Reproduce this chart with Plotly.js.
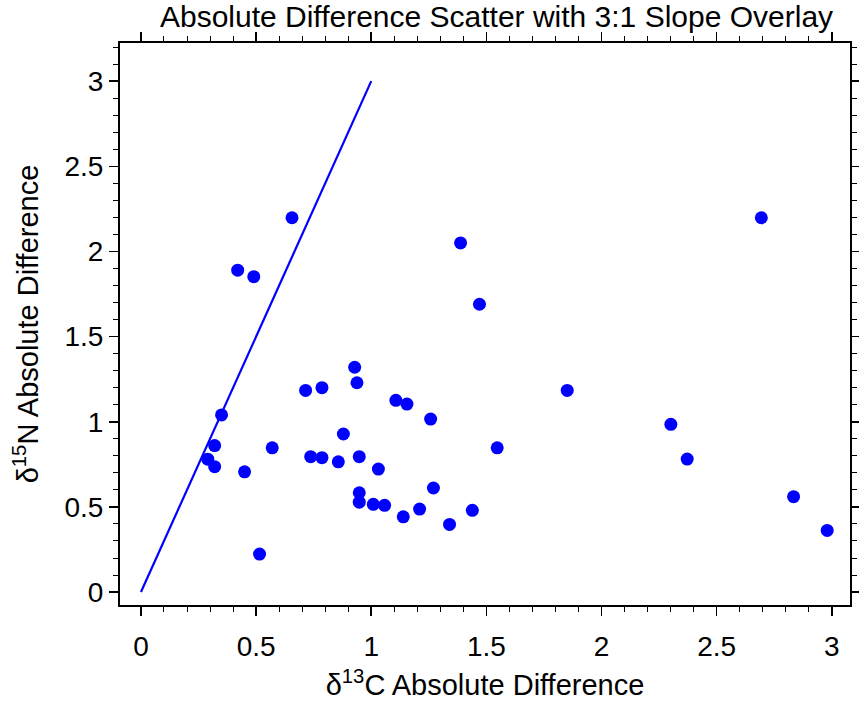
<!DOCTYPE html>
<html>
<head>
<meta charset="utf-8">
<script src="https://cdn.plot.ly/plotly-3.0.1.min.js"></script>
<style>html,body{margin:0;padding:0;background:#fff}</style>
</head>
<body>
<div id="chart" style="width:859px;height:704px"></div>
<script>
const d13C = [0.29,0.32,0.32,0.35,0.42,0.49,0.45,0.515,0.57,0.656,0.715,0.737,0.786,0.786,0.857,0.879,0.928,0.938,0.948,0.948,0.948,1.009,1.031,1.058,1.107,1.155,1.139,1.21,1.258,1.27,1.34,1.388,1.439,1.47,1.547,1.851,2.301,2.372,2.694,2.834,2.98];
const d15N = [0.78,0.736,0.86,1.04,1.89,1.852,0.706,0.223,0.847,2.198,1.184,0.795,0.789,1.2,0.765,0.928,1.32,1.229,0.795,0.583,0.528,0.515,0.722,0.509,1.126,1.104,0.442,0.487,1.016,0.611,0.397,2.05,0.48,1.69,0.847,1.184,0.985,0.781,2.198,0.56,0.362];
const slopeX = [0, 1];
const slopeY = [0, 3];
const tickVals = [0,0.5,1,1.5,2,2.5,3];
const tickText = ['0','0.5','1','1.5','2','2.5','3'];

const font = 'Liberation Sans, Arial, sans-serif';
const axisCommon = {
  showgrid: false, zeroline: false, showline: true, linecolor: '#000', linewidth: 2,
  mirror: 'ticks', ticks: 'outside', ticklen: 9, tickwidth: 1.5, tickcolor: '#000',
  tickvals: tickVals, ticktext: tickText,
  tickfont: {family: font, size: 28, color: '#000'},
  minor: {dtick: 0.1, ticks: 'outside', ticklen: 5, tickwidth: 1, tickcolor: '#000'}
};

const data = [
  {x: slopeX, y: slopeY, mode: 'lines', type: 'scatter', line: {color: '#0000ff', width: 2.2}, showlegend: false},
  {x: d13C, y: d15N, mode: 'markers', type: 'scatter', marker: {color: '#0000ff', size: 13}, showlegend: false}
];

const layout = {
  width: 859, height: 704,
  margin: {l: 120, r: 9, t: 43, b: 99},
  paper_bgcolor: '#fff', plot_bgcolor: '#fff',
  title: {text: 'Absolute Difference Scatter with 3:1 Slope Overlay', font: {family: font, size: 30, color: '#000'}, x: 0.578, xanchor: 'center', y: 0.976, yanchor: 'middle'},
  xaxis: Object.assign({}, axisCommon, {range: [-0.091, 3.079], ticklabelstandoff: 6,
    title: {text: 'δ<sup>13</sup>C Absolute Difference', font: {family: font, size: 29, color: '#000'}, standoff: 14}}),
  yaxis: Object.assign({}, axisCommon, {range: [-0.076, 3.224],
    title: {text: 'δ<sup>15</sup>N Absolute Difference', font: {family: font, size: 29, color: '#000'}, standoff: 17}})
};

Plotly.newPlot('chart', data, layout, {displayModeBar: false, staticPlot: true});
</script>
</body>
</html>
